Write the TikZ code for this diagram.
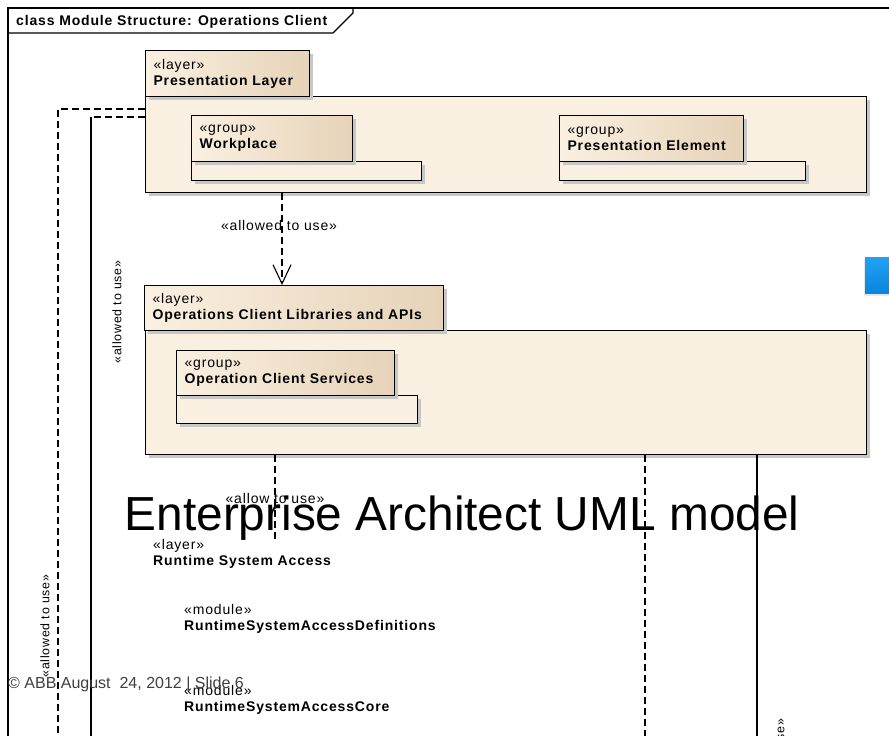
\documentclass[tikz,border=0pt]{standalone}
\usepackage{fontspec}
\setmainfont{Liberation Sans}
\newfontfamily\eafont[LetterSpace=6]{Liberation Sans}
\usetikzlibrary{arrows.meta,shadows}

\definecolor{eabody}{HTML}{FAF0E1}
\definecolor{eatab}{HTML}{E6D3B8}
\definecolor{eablueA}{HTML}{22A2F4}
\definecolor{eablueB}{HTML}{0A84DC}

\begin{document}
\begin{tikzpicture}[x=1pt,y=-1pt,
  eatext/.style={font=\eafont\fontsize{14}{16}\selectfont},
  smalltext/.style={font=\eafont\fontsize{12.4}{14}\selectfont},
  eashadow/.style={drop shadow={shadow xshift=3pt,shadow yshift=-3pt,fill=black!22,opacity=1}},
  bodybox/.style={draw,line width=1.1pt,fill=eabody,anchor=north west,inner sep=0pt,eashadow},
  tabbox/.style={draw,line width=1.1pt,left color=eabody,right color=eatab,anchor=north west,
    inner xsep=8pt,inner ysep=0pt,align=left,text width=#1,eatext,eashadow},
  depline/.style={line width=1.1pt,dash pattern=on 7pt off 4pt},
  plain/.style={line width=1.1pt},
  opentip/.style={-{Straight Barb[length=19pt,width=18pt,line width=1.1pt]}}
]
\useasboundingbox (0,0) rectangle (889,736);
\clip (0,0) rectangle (889,736);
\fill[white] (0,0) rectangle (889,736);

% diagram frame and its title tab
\draw[plain] (8,740) -- (8,8) -- (900,8);
\draw[plain] (8,33) -- (333,33) -- (353,13) -- (353,8);
\node[eatext,font=\eafont\fontsize{14}{16}\selectfont\bfseries,anchor=base west,inner sep=0pt]
  (hdr) at (16,25.7) {class Module Structure: Operations Client};

% Presentation Layer package
\node[bodybox,minimum width=721pt,minimum height=96pt] (presbody) at (145,96) {};
\node[tabbox=148pt,minimum height=46pt] (prestab) at (145,50) {«layer»\\\textbf{Presentation Layer}};

\node[bodybox,minimum width=230pt,minimum height=19pt] (wpbody) at (191,161) {};
\node[tabbox=145pt,minimum height=46pt] (wptab) at (191,115) {«group»\\\textbf{Workplace}};

\node[bodybox,minimum width=246pt,minimum height=19pt] (pebody) at (559,161) {};
\node[tabbox=168pt,minimum height=46pt] (petab) at (559,115) {«group»\\\textbf{Presentation Element}};

% Operations Client Libraries and APIs package
\node[bodybox,minimum width=721pt,minimum height=124pt] (oclbody) at (145,330) {};
\node[tabbox=283pt,minimum height=45pt] (ocltab) at (144,285) {«layer»\\\textbf{Operations Client Libraries and APIs}};

\node[bodybox,minimum width=241pt,minimum height=28pt] (ocsbody) at (176,395) {};
\node[tabbox=202pt,minimum height=45pt] (ocstab) at (176,350) {«group»\\\textbf{Operation Client Services}};

% dependency: Presentation Layer -> Operations Client Libraries
\draw[depline,opentip] ([xshift=137pt]presbody.south west) -- ([xshift=138pt]ocltab.north west)
  node[pos=0.35,eatext,xshift=-3pt] {«allowed to use»};

% dependencies leaving Presentation Layer on the left
\coordinate (outerend) at (58,745);
\draw[depline] ([yshift=-13pt]presbody.north west) -| (outerend);
\coordinate (innerbend) at (91,117);
\coordinate (innerend) at (91,745);
\draw[depline,line width=1.8pt] ([yshift=-21pt]presbody.north west) -- (innerbend);
\draw[plain] (innerbend) -- (innerend);
\node[smalltext,rotate=90] (lblinner) at (117,312) {«allowed to use»};
\node[smalltext,rotate=90] (lblouter) at (45,626) {«allowed to use»};

% dependencies leaving Operations Client Libraries downwards
\coordinate (rsatop) at (275,541);
\draw[depline] ([xshift=130pt]oclbody.south west) -- (rsatop)
  node[pos=0.5,eatext] {«allow to use»};
\coordinate (rsdend) at (645,745);
\draw[depline] ([xshift=500pt]oclbody.south west) -- (rsdend);
\coordinate (rscend) at (757,745);
\draw[plain] ([xshift=612pt]oclbody.south west) -- (rscend);
\node[smalltext,rotate=90,anchor=east] (lblright) at (780,715) {«allowed to use»};

% Runtime System Access layer and its modules
\node[eatext,anchor=north west,align=left,inner sep=0pt] (rsa) at (153,539)
  {«layer»\\\textbf{Runtime System Access}};
\node[eatext,anchor=north west,align=left,inner sep=0pt] (rsadef) at (184,604)
  {«module»\\\textbf{RuntimeSystemAccessDefinitions}};
\node[eatext,anchor=north west,align=left,inner sep=0pt] (rsacore) at (184,685)
  {«module»\\\textbf{RuntimeSystemAccessCore}};

% slide decorations
\node[anchor=north west,inner sep=0pt,minimum width=30pt,minimum height=36pt,
  top color=eablueA,bottom color=eablueB,
  drop shadow={shadow xshift=-1pt,shadow yshift=-3pt,fill=black!18}] (bluetab) at (865,257) {};
\node[anchor=base west,inner sep=0pt,font=\fontsize{47.8}{52}\selectfont] (title) at (124.5,530)
  {Enterprise Architect UML model};
\node[anchor=base west,inner sep=0pt,font=\fontsize{16}{18}\selectfont,text=black!75] (footer) at (8,688.5)
  {© ABB August\ \ 24, 2012 | Slide 6};
\end{tikzpicture}
\end{document}
